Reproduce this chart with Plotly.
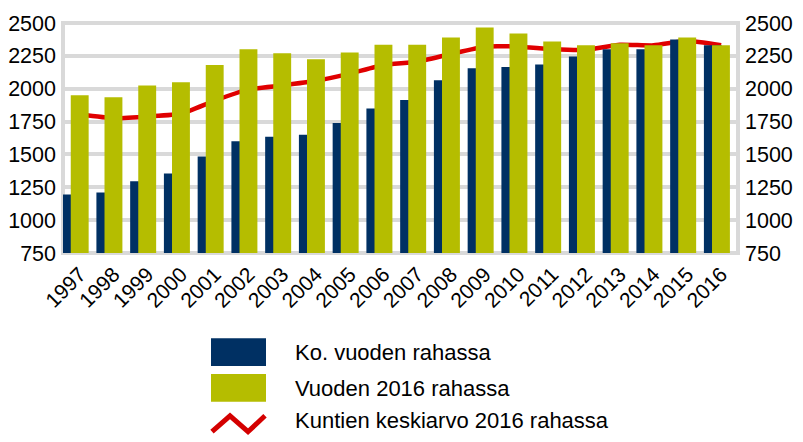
import plotly.graph_objects as go

years = ["1997", "1998", "1999", "2000", "2001", "2002", "2003", "2004", "2005", "2006",
         "2007", "2008", "2009", "2010", "2011", "2012", "2013", "2014", "2015", "2016"]
nominal = [1195, 1210, 1295, 1355, 1485, 1600, 1635, 1650, 1740, 1850,
           1915, 2065, 2155, 2165, 2185, 2245, 2300, 2300, 2375, 2330]
real2016 = [1950, 1935, 2025, 2050, 2180, 2300, 2270, 2225, 2275, 2335,
            2335, 2390, 2465, 2420, 2360, 2330, 2345, 2330, 2390, 2330]
average2016 = [1805, 1775, 1790, 1810, 1910, 1995, 2025, 2060, 2115, 2180,
               2205, 2265, 2320, 2320, 2300, 2295, 2335, 2330, 2365, 2330]
y_ticks = [750, 1000, 1250, 1500, 1750, 2000, 2250, 2500]
legend_labels = ["Ko. vuoden rahassa", "Vuoden 2016 rahassa", "Kuntien keskiarvo 2016 rahassa"]

NAVY = "#003063"
OLIVE = "#b5bd00"
RED = "#e00000"
GRID = "#d9d9d9"
FONT = "Liberation Sans, Arial, sans-serif"

# page offset from default body margin
OFF = 8
W, H = 803 - OFF, 442 - OFF
# plot area in page pixels
L, R, T, B = 63, 738, 22.5, 253.5


def px(x):
    return (x - L) / (R - L)


def py(y):
    return (B - y) / (B - T)


fig = go.Figure()
fig.add_trace(go.Scatter(x=years, y=average2016, mode="lines", name=legend_labels[2],
                         line=dict(color=RED, width=4.5, shape="spline", smoothing=0.5),
                         xaxis="x", yaxis="y", showlegend=False))
fig.add_trace(go.Bar(x=years, y=nominal, name=legend_labels[0], marker_color=NAVY,
                     marker_line_width=0, offset=-0.51, width=0.53,
                     xaxis="x", yaxis="y2", showlegend=False))
fig.add_trace(go.Bar(x=years, y=real2016, name=legend_labels[1], marker_color=OLIVE,
                     marker_line_width=0, offset=-0.27, width=0.53,
                     xaxis="x", yaxis="y2", showlegend=False))

shapes = [
    dict(type="rect", xref="paper", yref="paper", x0=0, x1=1, y0=0, y1=1,
         line=dict(color=GRID, width=4), layer="below"),
    dict(type="rect", xref="paper", yref="paper", x0=px(211), x1=px(266),
         y0=py(367), y1=py(339), fillcolor=NAVY, line_width=0),
    dict(type="rect", xref="paper", yref="paper", x0=px(211), x1=px(266),
         y0=py(403), y1=py(375), fillcolor=OLIVE, line_width=0),
    dict(type="path", xref="paper", yref="paper",
         path=f"M{px(212)},{py(433)} L{px(230)},{py(417)} L{px(248)},{py(433)} L{px(265)},{py(417)}",
         line=dict(color="#d40000", width=5)),
]
annotations = []
for label, yc in zip(legend_labels, [353, 390, 421.5]):
    annotations.append(dict(xref="paper", yref="paper", x=px(293), y=py(yc), text=label,
                            showarrow=False, xanchor="left", yanchor="middle",
                            font=dict(size=22, color="black", family=FONT)))

fig.update_layout(
    template="none",
    width=W, height=H,
    margin=dict(l=L - OFF, r=W - (R - OFF), t=T - OFF, b=H - (B - OFF), pad=0,
                autoexpand=False),
    paper_bgcolor="white", plot_bgcolor="white",
    barmode="overlay",
    font=dict(family=FONT, size=22, color="black"),
    xaxis=dict(type="category", range=[-0.5, 19.5], showgrid=False, zeroline=False,
               showline=False, ticks="", tickangle=-45, ticklabelstandoff=4,
               automargin=False,
               tickfont=dict(size=21, color="black", family=FONT)),
    yaxis=dict(range=[750, 2500], tickvals=y_ticks, showgrid=True, gridcolor=GRID,
               gridwidth=4, zeroline=False, showline=False, ticks="",
               ticklabelstandoff=6, automargin=False,
               tickfont=dict(size=21.5, color="black", family=FONT)),
    yaxis2=dict(range=[750, 2500], tickvals=y_ticks, overlaying="y", side="right",
                showgrid=False, zeroline=False, showline=False, ticks="",
                ticklabelstandoff=6, automargin=False,
                tickfont=dict(size=21.5, color="black", family=FONT)),
    shapes=shapes,
    annotations=annotations,
    showlegend=False,
)

fig.write_html("out.html")
